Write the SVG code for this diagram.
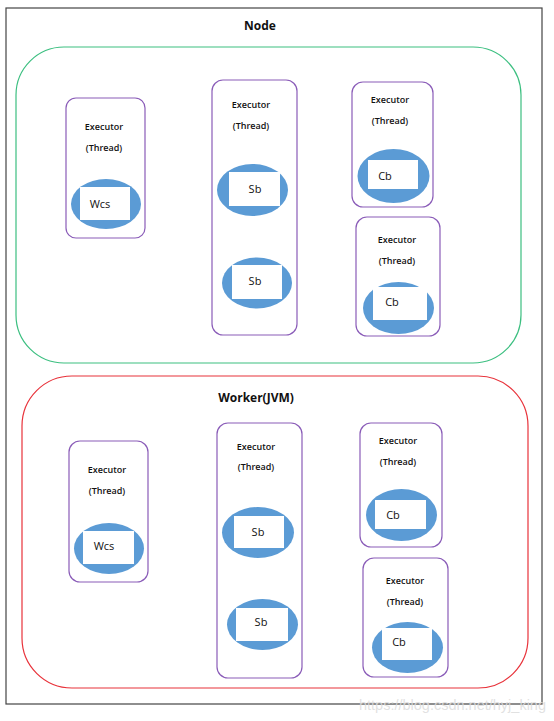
<svg xmlns="http://www.w3.org/2000/svg" width="554" height="721" viewBox="0 0 554 721">
<style>
.ex{fill:#fff;stroke:#8a5cb8;stroke-width:1.2}
.el{fill:#5b9bd5}
.bx{fill:#fff}
.t1{font-family:"Open Sans","Liberation Sans",sans-serif;font-size:9px;font-weight:600;fill:#111;text-anchor:middle}
.t2{font-family:"Open Sans","Liberation Sans",sans-serif;font-size:11px;fill:#111;text-anchor:middle}
.tt{font-family:"Open Sans","Liberation Sans",sans-serif;font-size:12px;font-weight:700;fill:#111;text-anchor:middle}
</style>
<rect x="0" y="0" width="554" height="721" fill="#fff"/>
<rect x="6" y="8" width="536" height="696" fill="#fff" stroke="#444" stroke-width="1.2"/>
<g id="node">
<rect x="16" y="47" width="505" height="316" rx="48" ry="48" fill="none" stroke="#3cbf80" stroke-width="1.2"/>
<text class="tt" x="260" y="30">Node</text>
</g>
<g id="worker">
<rect x="22" y="376" width="506" height="312" rx="50" ry="50" fill="none" stroke="#e8323a" stroke-width="1.2"/>
<text class="tt" x="256" y="402">Worker(JVM)</text>
</g>
<g id="n-ex1">
<rect class="ex" x="66" y="98" width="79" height="140" rx="10"/>
<text class="t1" x="104" y="130">Executor</text>
<text class="t1" x="104" y="151">(Thread)</text>
<ellipse class="el" cx="106" cy="204" rx="35" ry="25"/>
<rect class="bx" x="80" y="187" width="50" height="33"/>
<text class="t2" x="100" y="208">Wcs</text>
</g>
<g id="n-ex2">
<rect class="ex" x="212" y="80" width="85" height="255" rx="11"/>
<text class="t1" x="251" y="108">Executor</text>
<text class="t1" x="251" y="129">(Thread)</text>
<ellipse class="el" cx="252.5" cy="190" rx="35.5" ry="26"/>
<rect class="bx" x="229" y="172" width="51" height="34"/>
<text class="t2" x="255" y="193">Sb</text>
<ellipse class="el" cx="257" cy="283" rx="35" ry="25.5"/>
<rect class="bx" x="232" y="265" width="50" height="34"/>
<text class="t2" x="255" y="285">Sb</text>
</g>
<g id="n-ex3">
<rect class="ex" x="352" y="82" width="81" height="125" rx="11"/>
<text class="t1" x="390" y="103">Executor</text>
<text class="t1" x="390" y="124">(Thread)</text>
<ellipse class="el" cx="393.5" cy="176" rx="36" ry="27"/>
<rect class="bx" x="368" y="160" width="50" height="29"/>
<text class="t2" x="385" y="180">Cb</text>
</g>
<g id="n-ex4">
<rect class="ex" x="356" y="217" width="84" height="119" rx="11"/>
<text class="t1" x="397" y="243">Executor</text>
<text class="t1" x="397" y="264">(Thread)</text>
<ellipse class="el" cx="398.5" cy="308" rx="35.5" ry="26"/>
<rect class="bx" x="373" y="287" width="54" height="33"/>
<text class="t2" x="392" y="306">Cb</text>
</g>
<g id="w-ex1">
<rect class="ex" x="69" y="441" width="79" height="141" rx="11"/>
<text class="t1" x="107" y="473">Executor</text>
<text class="t1" x="107" y="494">(Thread)</text>
<ellipse class="el" cx="109" cy="548.5" rx="35" ry="25.5"/>
<rect class="bx" x="83" y="531" width="51" height="33"/>
<text class="t2" x="104" y="550">Wcs</text>
</g>
<g id="w-ex2">
<rect class="ex" x="217" y="423" width="85" height="255" rx="11"/>
<text class="t1" x="256" y="450">Executor</text>
<text class="t1" x="256" y="470">(Thread)</text>
<ellipse class="el" cx="258" cy="532.5" rx="36" ry="25.5"/>
<rect class="bx" x="234" y="516" width="50" height="32"/>
<text class="t2" x="258" y="536">Sb</text>
<ellipse class="el" cx="262.5" cy="624.5" rx="35.5" ry="25.5"/>
<rect class="bx" x="236" y="608" width="52" height="33"/>
<text class="t2" x="261" y="626">Sb</text>
</g>
<g id="w-ex3">
<rect class="ex" x="360" y="423" width="82" height="124" rx="11"/>
<text class="t1" x="398" y="444">Executor</text>
<text class="t1" x="398" y="465">(Thread)</text>
<ellipse class="el" cx="401.5" cy="515" rx="35.5" ry="26"/>
<rect class="bx" x="375" y="500" width="51" height="29"/>
<text class="t2" x="393" y="519">Cb</text>
</g>
<g id="w-ex4">
<rect class="ex" x="363" y="558" width="85" height="119" rx="11"/>
<text class="t1" x="405" y="584">Executor</text>
<text class="t1" x="405" y="605">(Thread)</text>
<ellipse class="el" cx="407.5" cy="647.5" rx="35.5" ry="25.5"/>
<rect class="bx" x="382" y="628" width="50" height="32"/>
<text class="t2" x="399" y="646">Cb</text>
</g>
<g id="connectors"/>
<text x="546" y="710" font-family="Liberation Sans, sans-serif" font-size="14.5" fill="#dcdcdc" fill-opacity="0.85" text-anchor="end">https://blog.csdn.net/hyj_king</text>
</svg>
